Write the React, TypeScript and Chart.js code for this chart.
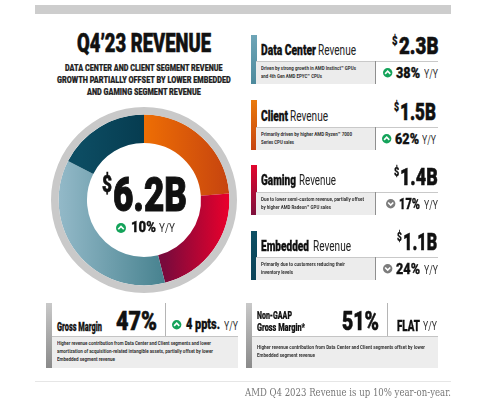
import React, { useEffect, useRef } from "react";
import { Chart, registerables } from "chart.js";

Chart.register(...registerables);

const categories = ["Client", "Gaming", "Data Center", "Embedded"];
const revenue = [1.5, 1.4, 2.3, 1.1];
const ringBackdrop = [1];
const segmentColors: [string, string][] = [
  ["#ee6e04", "#c6440f"],
  ["#7a0a3c", "#ea002c"],
  ["#93b9c8", "#47828f"],
  ["#0c4c62", "#063c50"],
];
const segmentSpans: [number, number][] = [
  [93, 178],
  [114, 178],
  [8, 114],
  [30, 93],
];

const SANS = "Roboto, 'Liberation Sans', sans-serif";
const SERIF = "'DejaVu Serif', 'Liberation Serif', serif";
let measureCtx: CanvasRenderingContext2D | null = null;

function T({ x, y, w, size, text, weight = 900, color = "#111", font = SANS }: any) {
  if (!measureCtx) measureCtx = document.createElement("canvas").getContext("2d");
  const fontSpec = `${weight} ${size}px ${font}`;
  measureCtx!.font = fontSpec;
  const natural = measureCtx!.measureText(text).width || 1;
  const stroke = weight >= 900 && size > 9 ? size * 0.022 : 0;
  return (
    <div
      style={{
        position: "absolute",
        left: x,
        top: y - size / 2,
        height: size,
        font: fontSpec,
        lineHeight: `${size}px`,
        whiteSpace: "pre",
        color,
        WebkitTextStroke: stroke ? `${stroke}px ${color}` : undefined,
        transformOrigin: "0 50%",
        transform: `scaleX(${w / natural})`,
      }}
    >
      {text}
    </div>
  );
}

function Box({ x, y, w, h, bg }: any) {
  return <div style={{ position: "absolute", left: x, top: y, width: w, height: h, background: bg }} />;
}

function Icon({ x, y, up, r = 4.7 }: any) {
  return (
    <svg
      width={r * 2}
      height={r * 2}
      viewBox="0 0 20 20"
      style={{ position: "absolute", left: x - r, top: y - r }}
    >
      <circle cx="10" cy="10" r="10" fill={up ? "#14a35a" : "#7c7c7c"} />
      <path
        d={up ? "M4.5 12.5 L10 7 L15.5 12.5" : "M4.5 7.5 L10 13 L15.5 7.5"}
        stroke="#fff"
        strokeWidth="3.5"
        fill="none"
      />
    </svg>
  );
}

function Money({ x, w, top, bottom, value }: any) {
  const cap = bottom - top;
  const size = cap / 0.711;
  const dollar = w * 0.12;
  return (
    <>
      <T x={x} y={top + cap * 0.26} w={dollar} size={size * 0.5} text="$" />
      <T x={x + dollar + 1} y={(top + bottom) / 2} w={w - dollar - 1} size={size} text={value} />
    </>
  );
}

function Card({ top, barTop, barBottom, barBg, strong, strongW, revX, revW, moneyX, moneyW, value, lineY, d1, d2, d1W, d2W, up, iconX, pct, pctX, pctW, yyX, yyW, right }: any) {
  const titleY = top;
  return (
    <>
      <Box x={251} y={barTop} w={5.5} h={barBottom - barTop} bg={barBg} />
      <T x={261} y={titleY} w={strongW} size={14} text={strong} />
      <T x={revX} y={titleY} w={revW} size={14} weight={400} text="Revenue" color="#222" />
      <Money x={moneyX} w={moneyW} top={lineY - 23} bottom={lineY - 6} value={value} />
      <Box x={256} y={lineY} w={right - 256} h={1} bg="#c9c9c9" />
      <Box x={256} y={lineY + 1} w={119} h={barBottom - lineY - 1} bg="#ececec" />
      <Box x={375} y={lineY} w={1} h={barBottom - lineY} bg="#8f8f8f" />
      <T x={261} y={lineY + 8} w={d1W} size={5.8} weight={700} text={d1} color="#333" />
      <T x={261} y={lineY + 15.5} w={d2W} size={5.8} weight={700} text={d2} color="#333" />
      <Icon x={iconX} y={lineY + 12} up={up} />
      <T x={pctX} y={lineY + 12} w={pctW} size={14} text={pct} />
      <T x={yyX} y={lineY + 12} w={yyW} size={13} weight={400} text="Y/Y" color="#333" />
    </>
  );
}

export default function App() {
  const ref = useRef<HTMLCanvasElement>(null);
  useEffect(() => {
    document.body.style.margin = "0";
    document.body.style.overflow = "hidden";
    const chart = new Chart(ref.current!, {
      type: "doughnut",
      data: {
        labels: categories,
        datasets: [
          { data: ringBackdrop, backgroundColor: "#c9c9c9", borderWidth: 0, weight: 7.5 },
          {
            data: revenue,
            borderWidth: 0,
            weight: 28,
            backgroundColor: (c: any) => {
              const i = c.dataIndex ?? 0;
              const [a, b] = segmentSpans[i];
              const g = c.chart.ctx.createLinearGradient(a, 0, b, 0);
              g.addColorStop(0, segmentColors[i][0]);
              g.addColorStop(1, segmentColors[i][1]);
              return g;
            },
          },
        ],
      } as any,
      options: {
        animation: false,
        responsive: false,
        cutout: "61.3%",
        plugins: { legend: { display: false }, tooltip: { enabled: false } },
      } as any,
    });
    return () => chart.destroy();
  }, []);

  const sideBar = "linear-gradient(#c9c9c9,#8a8a8a)";

  return (
    <div
      style={{
        position: "absolute",
        left: 0,
        top: 0,
        width: 500,
        height: 400,
        overflow: "hidden",
        background: "#fff",
        filter: "blur(0.4px)",
      }}
    >
      <Box x={35} y={5} w={416} h={9} bg="#cdcdcd" />
      <canvas
        ref={ref}
        width={186}
        height={186}
        style={{ position: "absolute", left: 51, top: 107, width: 186, height: 186 }}
      />

      <T x={77} y={44} w={134} size={25.5} text="Q4’23 REVENUE" />
      <T x={65} y={68} w={158} size={9.8} text="DATA CENTER AND CLIENT SEGMENT REVENUE" color="#222" />
      <T x={57} y={80} w={174} size={9.8} text="GROWTH PARTIALLY OFFSET BY LOWER EMBEDDED" color="#222" />
      <T x={87} y={92} w={114} size={9.8} text="AND GAMING SEGMENT REVENUE" color="#222" />

      <T x={102} y={184} w={10} size={24} text="$" />
      <T x={113} y={194.5} w={74} size={49} text="6.2B" />
      <Icon x={121} y={228} up r={5} />
      <T x={131} y={228} w={25} size={14.5} text="10%" />
      <T x={159} y={228} w={16} size={13.5} weight={400} text="Y/Y" color="#333" />

      <Card top={50} barTop={35} barBottom={84} barBg="linear-gradient(#6ea5b7,#4d8a9d)" strong="Data Center" strongW={55} revX={318} revW={38}
        moneyX={392} moneyW={46} value="2.3B" lineY={61} right={438}
        d1="Driven by strong growth in AMD Instinct™ GPUs" d1W={95} d2="and 4th Gen AMD EPYC™ CPUs" d2W={61}
        up iconX={388} pct="38%" pctX={396} pctW={24} yyX={424} yyW={14} />
      <Card top={116} barTop={100} barBottom={150} barBg="linear-gradient(#ea7a0c,#c6440f)" strong="Client" strongW={27} revX={290} revW={38}
        moneyX={394} moneyW={42} value="1.5B" lineY={127} right={438}
        d1="Primarily driven by higher AMD Ryzen™ 7000" d1W={91} d2="Series CPU sales" d2W={33}
        up iconX={387} pct="62%" pctX={395} pctW={24} yyX={422} yyW={14} />
      <Card top={180} barTop={165} barBottom={215} barBg="linear-gradient(#e2062e,#7e103c)" strong="Gaming" strongW={35} revX={299} revW={37}
        moneyX={394} moneyW={44} value="1.4B" lineY={192} right={438}
        d1="Due to lower semi-custom revenue, partially offset" d1W={103} d2="by higher AMD Radeon™ GPU sales" d2W={70}
        up={false} iconX={391} pct="17%" pctX={399} pctW={21} yyX={424} yyW={14} />
      <Card top={246} barTop={231} barBottom={280} barBg="linear-gradient(#0e5064,#0a4257)" strong="Embedded" strongW={48} revX={313} revW={38}
        moneyX={397} moneyW={40} value="1.1B" lineY={257} right={438}
        d1="Primarily due to customers reducing their" d1W={84} d2="inventory levels" d2W={32}
        up={false} iconX={388} pct="24%" pctX={396} pctW={24} yyX={424} yyW={14} />

      <Box x={46} y={303} w={6} h={65} bg={sideBar} />
      <Box x={52} y={336} w={186} h={32} bg="#ededed" />
      <Box x={52} y={335.5} w={186} h={1} bg="#c4c4c4" />
      <Box x={165} y={303} w={1} h={33} bg="#b5b5b5" />
      <T x={57} y={327} w={45} size={12} text="Gross Margin" />
      <T x={116} y={321.5} w={41} size={25} text="47%" />
      <Icon x={177} y={325} up />
      <T x={186} y={325.5} w={34} size={14.5} text="4 ppts." />
      <T x={224} y={325.5} w={14} size={13} weight={400} text="Y/Y" color="#333" />
      <T x={57} y={344} w={154} size={5.8} weight={700} text="Higher revenue contribution from Data Center and Client segments and lower" color="#333" />
      <T x={57} y={352} w={156} size={5.8} weight={700} text="amortization of acquisition-related intangible assets, partially offset by lower" color="#333" />
      <T x={57} y={360} w={58} size={5.8} weight={700} text="Embedded segment revenue" color="#333" />

      <Box x={246} y={303} w={6} h={65} bg={sideBar} />
      <Box x={252} y={336} w={186} h={32} bg="#ededed" />
      <Box x={252} y={335.5} w={186} h={1} bg="#c4c4c4" />
      <Box x={386.5} y={303} w={1} h={33} bg="#b5b5b5" />
      <T x={257} y={315} w={35} size={11} text="Non-GAAP" />
      <T x={257} y={327} w={48} size={11} text="Gross Margin*" />
      <T x={342} y={321.5} w={37} size={25} text="51%" />
      <T x={397} y={325.5} w={23} size={14} text="FLAT" />
      <T x={423} y={325.5} w={14} size={13} weight={400} text="Y/Y" color="#333" />
      <T x={257} y={348} w={168} size={5.8} weight={700} text="Higher revenue contribution from Data Center and Client segments offset by lower" color="#333" />
      <T x={257} y={356} w={58} size={5.8} weight={700} text="Embedded segment revenue" color="#333" />

      <Box x={35} y={380.5} w={416} h={1} bg="#e6e6e6" />
      <T x={245} y={392} w={206} size={11} weight={400} font={SERIF} color="#777" text="AMD Q4 2023 Revenue is up 10% year-on-year." />
    </div>
  );
}
